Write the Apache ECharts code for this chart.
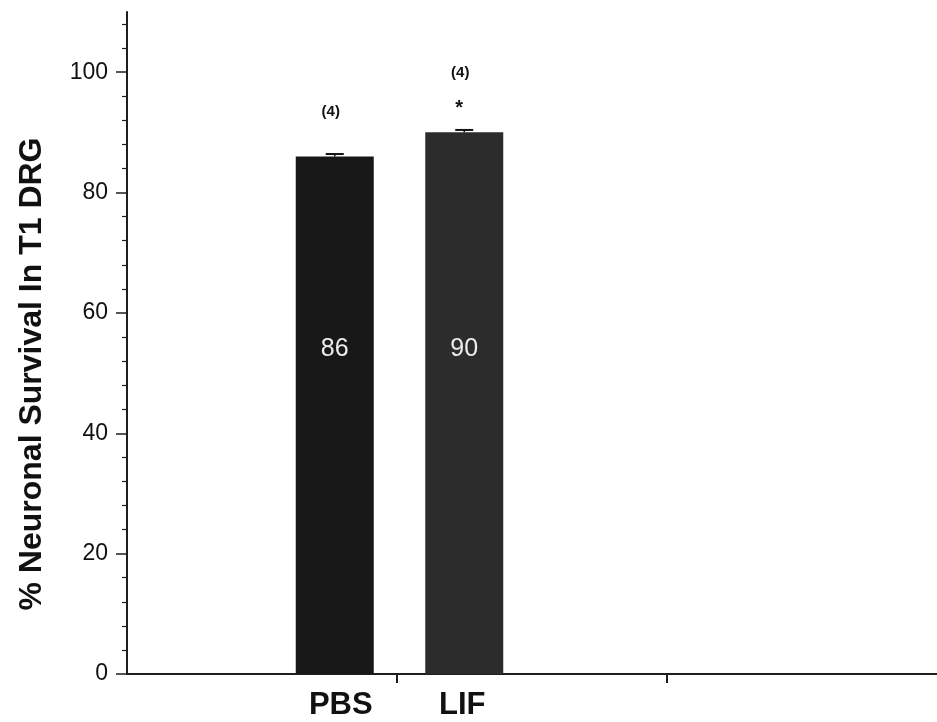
<!DOCTYPE html>
<html>
<head>
<meta charset="utf-8">
<script src="https://cdn.jsdelivr.net/npm/echarts@6/dist/echarts.min.js"></script>
<style>
  html, body { margin: 0; padding: 0; background: #fff; }
  #chart { width: 937px; height: 722px; }
</style>
</head>
<body>
<div id="chart"></div>
<script>
// Neuronal survival in T1 DRG, PBS vs LIF
const groups = ['PBS', 'LIF'];
const survival = [86, 90];
const sem = [0.4, 0.4];
const nAnimals = ['(4)', '(4)'];
const significance = ['', '*'];
const yTicks = [0, 20, 40, 60, 80, 100];
const yMinorTicks = [4, 8, 12, 16, 24, 28, 32, 36, 44, 48, 52, 56, 64, 68, 72, 76, 84, 88, 92, 96, 104, 108];
const frameTicks = [1, 2];

const barColors = ['#181818', '#2c2c2c'];
const valueLabelLevel = 54;   // height on the y scale where the in-bar numbers sit
const font = '"Liberation Sans", Arial, Helvetica, sans-serif';

const chart = echarts.init(document.getElementById('chart'), null, { renderer: 'canvas' });

const option = {
  backgroundColor: '#ffffff',
  animation: false,
  grid: [
    // outer frame with the axes
    { left: 127, right: 0, top: 12, bottom: 48 },
    // band holding the two bars
    { left: 270, width: 259, top: 12, bottom: 48 }
  ],
  xAxis: [
    {
      gridIndex: 0, type: 'value', min: 0, max: 3,
      axisLine: { show: true, lineStyle: { color: '#1e1e1e', width: 2 } },
      axisTick: { show: true, customValues: frameTicks, inside: false, length: 9, lineStyle: { color: '#1e1e1e', width: 2 } },
      axisLabel: { show: false },
      splitLine: { show: false }
    },
    {
      gridIndex: 1, type: 'category', data: groups,
      axisLine: { show: false },
      axisTick: { show: false },
      axisLabel: {
        show: true, interval: 0, hideOverlap: false, margin: 16, color: '#111',
        fontFamily: font, fontWeight: 'bold', fontSize: 31,
        formatter: function (v) { return v === 'PBS' ? '{p|' + v + '}' : '{l|' + v + '}'; },
        rich: {
          p: { fontFamily: font, fontWeight: 'bold', fontSize: 31, color: '#111', padding: [0, 0, 0, 12] },
          l: { fontFamily: font, fontWeight: 'bold', fontSize: 31, color: '#111', padding: [0, 4, 0, 0] }
        }
      },
      splitLine: { show: false }
    }
  ],
  yAxis: [
    {
      gridIndex: 0, type: 'value', min: 0, max: 110, position: 'left',
      axisLine: { show: true, onZero: false, lineStyle: { color: '#1e1e1e', width: 2 } },
      axisTick: { show: true, customValues: yTicks, length: 11, lineStyle: { color: '#1e1e1e', width: 1.5 } },
      axisLabel: { show: true, customValues: yTicks, margin: 19, color: '#111', fontFamily: font, fontSize: 23 },
      splitLine: { show: false }
    },
    {
      // minor ticks along the same axis line
      gridIndex: 0, type: 'value', min: 0, max: 110, position: 'left', offset: 0,
      axisLine: { show: false, onZero: false },
      axisTick: { show: true, inside: false, customValues: yMinorTicks, length: 5, lineStyle: { color: '#1e1e1e', width: 1.2 } },
      axisLabel: { show: false },
      splitLine: { show: false }
    },
    {
      gridIndex: 1, type: 'value', min: 0, max: 110,
      show: false
    }
  ],
  graphic: [
    {
      type: 'text',
      x: 32, y: 374,
      rotation: Math.PI / 2,
      style: {
        text: '% Neuronal Survival In T1 DRG',
        fontFamily: font, fontWeight: 'bold', fontSize: 32,
        fill: '#111', align: 'center', verticalAlign: 'middle'
      }
    }
  ],
  series: [
    {
      type: 'bar',
      xAxisIndex: 1, yAxisIndex: 2,
      barWidth: 78,
      data: survival.map((v, i) => ({ value: v, itemStyle: { color: barColors[i] } })),
      z: 2
    },
    {
      // in-bar values, error bars, group sizes and significance marks
      type: 'custom',
      xAxisIndex: 1, yAxisIndex: 2,
      data: survival.map((v, i) => [i, v, sem[i]]),
      renderItem: function (params, api) {
        const i = api.value(0);
        const v = api.value(1);
        const e = api.value(2);
        const top = api.coord([i, v + e]);
        const base = api.coord([i, v]);
        const mid = api.coord([i, valueLabelLevel]);
        const half = 9;
        const children = [
          { type: 'text', style: { x: mid[0], y: mid[1], text: String(v), fontFamily: font, fontSize: 25, fill: '#ececec', align: 'center', verticalAlign: 'middle' } },
          { type: 'line', shape: { x1: top[0], y1: base[1], x2: top[0], y2: top[1] }, style: { stroke: '#111', lineWidth: 1.5 } },
          { type: 'line', shape: { x1: top[0] - half, y1: top[1], x2: top[0] + half, y2: top[1] }, style: { stroke: '#111', lineWidth: 2 } }
        ];
        const sig = significance[i];
        let labelY = top[1] - 42;
        if (sig) {
          children.push({
            type: 'text',
            style: { x: top[0] - 5, y: top[1] - 21, text: sig, fontFamily: font, fontWeight: 'bold', fontSize: 20, fill: '#111', align: 'center', verticalAlign: 'middle' }
          });
          labelY = top[1] - 57;
        }
        children.push({
          type: 'text',
          style: { x: top[0] - 4, y: labelY, text: nAnimals[i], fontFamily: font, fontWeight: 'bold', fontSize: 15, fill: '#111', align: 'center', verticalAlign: 'middle' }
        });
        return { type: 'group', children: children };
      },
      z: 3
    }
  ]
};

chart.setOption(option);
</script>
</body>
</html>
